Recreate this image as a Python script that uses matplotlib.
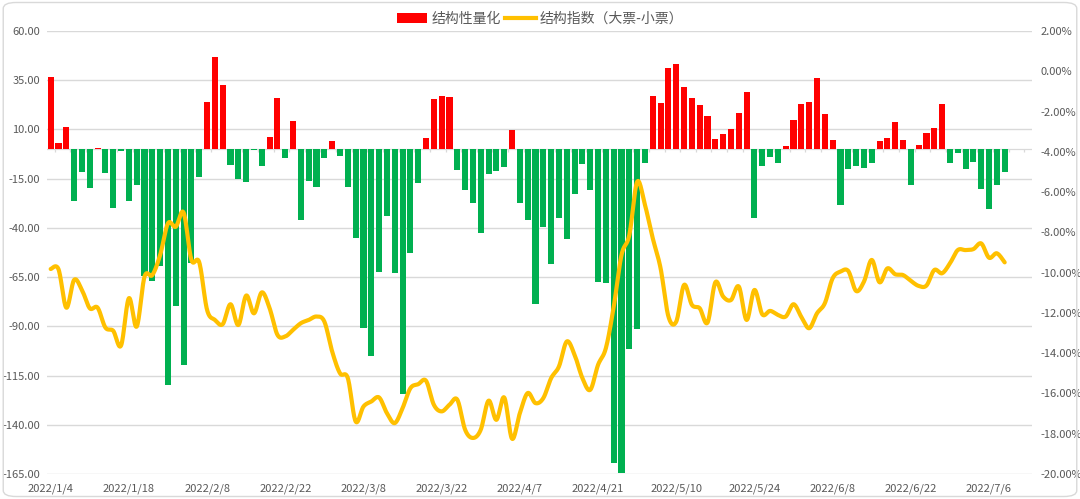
import numpy as np
import matplotlib
matplotlib.use("Agg")
import matplotlib.pyplot as plt
from matplotlib.patches import FancyBboxPatch, Patch
from matplotlib.lines import Line2D
from matplotlib.ticker import FuncFormatter, MultipleLocator

plt.rcParams['font.family'] = ['Noto Sans CJK SC', 'DejaVu Sans']

# bar values (结构性量化), one per trading day from 2022/1/4 to 2022/7/8
bars = [36.7, 2.9, 11.0, -26.2, -11.7, -19.9, 0.8, -12.3, -29.7, -0.8,
        -26.2, -18.3, -64.2, -66.8, -59.2, -120.0, -79.9, -109.7, -57.6, -14.0,
        23.7, 46.8, 32.4, -8.1, -15.2, -16.6, -0.3, -8.8, 6.3, 26.0,
        -4.4, 14.2, -35.8, -16.2, -19.4, -4.4, 4.1, -3.5, -19.4, -45.3,
        -91.1, -105.3, -62.2, -33.8, -63.0, -124.4, -52.9, -17.1, 5.7, 25.4,
        27.2, 26.7, -10.6, -21.0, -27.4, -42.4, -12.8, -11.3, -9.1, 9.6,
        -27.2, -36.0, -78.6, -39.4, -58.5, -34.8, -45.8, -23.0, -7.4, -20.6,
        -67.4, -68.1, -159.2, -164.5, -101.6, -91.6, -7.3, 26.9, 23.3, 41.1,
        43.1, 31.3, 25.9, 22.5, 16.7, 5.1, 7.9, 10.0, 18.3, 28.9,
        -35.0, -8.6, -4.2, -6.9, 1.5, 14.7, 22.8, 23.7, 36.3, 17.7,
        4.6, -28.4, -10.1, -8.5, -9.5, -6.9, 4.1, 5.7, 13.9, 4.6,
        -18.3, 2.2, 8.3, 10.5, 22.8, -7.3, -1.9, -10.1, -6.4, -20.1,
        -30.3, -18.4, -11.8]

# line values (结构指数（大票-小票）), in %
index_pct = [-9.82, -9.83, -11.74, -10.36, -10.86, -11.77, -11.74, -12.73, -12.89, -13.62,
             -11.27, -12.68, -10.20, -10.12, -9.12, -7.55, -7.72, -7.02, -9.37, -9.49,
             -11.85, -12.35, -12.56, -11.57, -12.60, -11.14, -12.02, -10.98, -11.77, -13.09,
             -13.17, -12.84, -12.51, -12.35, -12.18, -12.43, -13.92, -15.00, -15.24, -17.39,
             -16.65, -16.40, -16.20, -16.98, -17.47, -16.73, -15.74, -15.54, -15.37, -16.56,
             -16.89, -16.56, -16.31, -17.80, -18.21, -17.80, -16.36, -17.31, -16.20, -18.25,
             -16.98, -15.98, -16.48, -16.23, -15.24, -14.66, -13.42, -14.08, -15.24, -15.82,
             -14.58, -13.75, -11.70, -9.12, -8.13, -5.49, -6.64, -8.30, -9.79, -12.18,
             -12.43, -10.61, -11.60, -11.77, -12.48, -10.48, -11.19, -11.36, -10.69, -12.35,
             -10.86, -12.07, -11.90, -12.10, -12.18, -11.57, -12.20, -12.76, -12.02, -11.52,
             -10.28, -9.95, -9.92, -10.91, -10.45, -9.37, -10.48, -9.79, -10.08, -10.12,
             -10.41, -10.66, -10.64, -9.87, -10.03, -9.54, -8.88, -8.88, -8.83, -8.55,
             -9.26, -9.04, -9.49]

tick_labels = ['2022/1/4', '2022/1/18', '2022/2/8', '2022/2/22', '2022/3/8', '2022/3/22',
               '2022/4/7', '2022/4/21', '2022/5/10', '2022/5/24', '2022/6/8', '2022/6/22',
               '2022/7/6']
left_ticks = [60, 35, 10, -15, -40, -65, -90, -115, -140, -165]
n_slots = 126  # category axis keeps a few empty slots after the last day


def catmull_rom(x, y, steps=16):
    # smoothed drawing of the line, like the spreadsheet "smooth line" option
    x = np.asarray(x, float)
    y = np.asarray(y, float)
    px = np.concatenate([[x[0]], x, [x[-1]]])
    py = np.concatenate([[y[0]], y, [y[-1]]])
    t = np.linspace(0, 1, steps, endpoint=False)[:, None]
    xs, ys = [], []
    for i in range(1, len(px) - 2):
        p0, p1, p2, p3 = px[i-1], px[i], px[i+1], px[i+2]
        q0, q1, q2, q3 = py[i-1], py[i], py[i+1], py[i+2]
        xs.append(0.5 * (2*p1 + (-p0+p2)*t + (2*p0-5*p1+4*p2-p3)*t**2 + (-p0+3*p1-3*p2+p3)*t**3))
        ys.append(0.5 * (2*q1 + (-q0+q2)*t + (2*q0-5*q1+4*q2-q3)*t**2 + (-q0+3*q1-3*q2+q3)*t**3))
    xs = np.concatenate(xs).ravel()
    ys = np.concatenate(ys).ravel()
    return np.append(xs, x[-1]), np.append(ys, y[-1])


fig = plt.figure(figsize=(10.8, 4.99), dpi=100)
ax = fig.add_axes([0.0433, 0.0501, 0.9123, 0.8878])
ax2 = ax.twinx()

x = np.arange(len(bars))
vals = np.array(bars)
colors = np.where(vals >= 0, '#FF0000', '#00B050')
ax.bar(x, vals, width=0.78, color=colors, edgecolor='none', zorder=3)

ax.set_ylim(-165, 60)
ax.set_yticks(left_ticks)
ax.yaxis.set_major_formatter(FuncFormatter(lambda v, p: f'{v:.2f}'))
ax.set_xlim(-0.5, n_slots - 0.5)
ax.grid(axis='y', color='#D9D9D9', linewidth=1.0, zorder=0)
ax.set_axisbelow(True)
ax.axhline(0, color='#D9D9D9', linewidth=0.9, zorder=1)
ax.vlines(np.arange(0.5, n_slots, 2), -1.6, 0, color='#D9D9D9', linewidth=0.9, zorder=1)

ax.set_xticks(np.arange(0, 10 * len(tick_labels), 10))
ax.set_xticklabels(tick_labels)

lx, ly = catmull_rom(x, np.array(index_pct) / 100.0)
ax2.plot(lx, ly, color='#FFC000', linewidth=3.0, solid_capstyle='round', zorder=4)
ax2.set_ylim(-0.20, 0.02)
ax2.yaxis.set_major_locator(MultipleLocator(0.02))
ax2.yaxis.set_major_formatter(FuncFormatter(lambda v, p: f'{v*100:.2f}%'))

for a in (ax, ax2):
    for s in a.spines.values():
        s.set_visible(False)
    a.tick_params(length=0, labelsize=8, colors='#595959')
ax.tick_params(axis='y', pad=5)
ax2.tick_params(axis='y', pad=6)
ax.tick_params(axis='x', pad=7)

handles = [Patch(facecolor='#FF0000', edgecolor='none'),
           Line2D([0], [0], color='#FFC000', linewidth=3)]
fig.legend(handles, ['结构性量化', '结构指数（大票-小票）'], loc='center',
           bbox_to_anchor=(0.5, 0.962), ncol=2, frameon=False, fontsize=10,
           handlelength=2.2, handletextpad=0.3, columnspacing=0.3,
           labelcolor='#595959')

border = FancyBboxPatch((0.003, 0.005), 0.994, 0.99, boxstyle='round,pad=0,rounding_size=0.012',
                        transform=fig.transFigure, facecolor='none', edgecolor='#D9D9D9',
                        linewidth=1.0)
fig.patches.append(border)

fig.savefig('out.png', dpi=100)
